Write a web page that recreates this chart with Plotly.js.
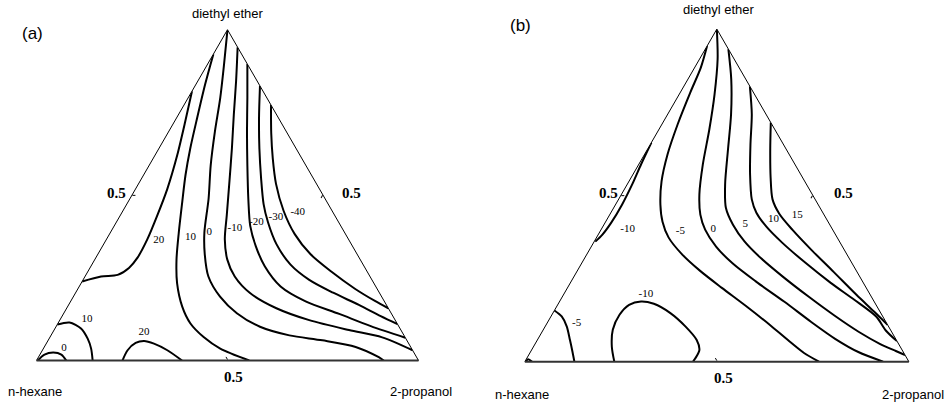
<!DOCTYPE html>
<html><head><meta charset="utf-8">
<script src="https://cdn.plot.ly/plotly-3.0.1.min.js"></script>
<style>html,body{margin:0;padding:0;background:#fff;}</style>
</head><body>
<div id="chart" style="width:945px;height:408px;"></div>
<script>
// ---- Panel (a): contour lines, ether = diethyl ether fraction, prop = 2-propanol fraction ----
const a20_ether = [0.239,0.254,0.259,0.280,0.311,0.366,0.438,0.519,0.621,0.723,0.814];
const a20_prop  = [0,0.042,0.083,0.102,0.109,0.107,0.097,0.083,0.058,0.028,0];
const a10_ether = [0.926,0.835,0.733,0.641,0.560,0.479,0.387,0.305,0.234,0.163,0.112,0.071,0.036,0];
const a10_prop  = [0,0.024,0.054,0.082,0.110,0.142,0.179,0.214,0.251,0.300,0.347,0.402,0.463,0.557];
const a0_ether  = [1,0.896,0.794,0.692,0.590,0.489,0.387,0.321,0.254,0.193,0.143,0.102,0.076,0.061,0.041,0.010,0];
const a0_prop   = [0,0.043,0.084,0.121,0.161,0.206,0.246,0.280,0.323,0.384,0.453,0.534,0.624,0.718,0.815,0.891,0.909];
const am10_ether = [0.947,0.845,0.743,0.641,0.540,0.438,0.366,0.305,0.254,0.204,0.158,0.122,0.092,0.070,0.031];
const am10_prop  = [0.053,0.100,0.145,0.191,0.235,0.279,0.310,0.347,0.392,0.457,0.549,0.653,0.772,0.870,0.969];
const am20_ether = [0.896,0.794,0.692,0.590,0.489,0.407,0.346,0.285,0.224,0.179,0.141,0.104,0.069];
const am20_prop  = [0.104,0.155,0.205,0.257,0.310,0.356,0.401,0.455,0.527,0.615,0.722,0.823,0.931];
const am30_ether = [0.830,0.733,0.641,0.550,0.473,0.418,0.351,0.290,0.244,0.205,0.168,0.134,0.110];
const am30_prop  = [0.170,0.216,0.263,0.313,0.358,0.397,0.453,0.520,0.592,0.674,0.760,0.834,0.890];
const am40_ether = [0.772,0.687,0.611,0.534,0.452,0.382,0.321,0.269,0.217,0.180,0.158];
const am40_prop  = [0.228,0.271,0.313,0.360,0.421,0.485,0.557,0.637,0.725,0.796,0.842];
const aBlob10_ether = [0.109,0.115,0.097,0.066,0.036,0];
const aBlob10_prop  = [0,0.029,0.068,0.101,0.125,0.147];
const aBlob0_ether  = [0,0.018,0.024,0.018,0];
const aBlob0_prop   = [0.003,0.012,0.032,0.056,0.078];
const aBlob20_ether = [0,0.031,0.053,0.059,0.051,0.031,0];
const aBlob20_prop  = [0.225,0.223,0.233,0.252,0.282,0.327,0.381];

const aLabelText  = ['20','10','0','-10','-20','-30','-40','10','0','20'];
const aLabelEther = [0.364,0.372,0.387,0.399,0.419,0.433,0.448,0.124,0.038,0.085];
const aLabelProp  = [0.138,0.217,0.259,0.320,0.366,0.410,0.460,0.070,0.053,0.239];

// ---- Panel (b) ----
const bm10edge_ether = [0.659,0.593,0.533,0.472,0.418,0.382,0.361];
const bm10edge_prop  = [0,0.006,0.013,0.017,0.016,0.011,0.003];
const bm5_ether = [0.949,0.885,0.810,0.714,0.623,0.542,0.472,0.421,0.373,0.322,0.273,0.222,0.168,0.111,0.062,0.026,0];
const bm5_prop  = [0,0.016,0.026,0.041,0.060,0.085,0.117,0.148,0.188,0.249,0.320,0.402,0.491,0.582,0.657,0.714,0.766];
const b0_ether  = [1,0.910,0.804,0.699,0.593,0.503,0.442,0.397,0.346,0.295,0.240,0.180,0.120,0.068,0.029,0];
const b0_prop   = [0,0.047,0.092,0.131,0.167,0.203,0.236,0.271,0.325,0.394,0.483,0.586,0.685,0.775,0.854,0.933];
const b5_ether  = [0.940,0.849,0.744,0.638,0.533,0.463,0.412,0.361,0.310,0.255,0.195,0.138,0.090,0.053,0.032,0.020];
const b5_prop   = [0.060,0.113,0.165,0.210,0.255,0.292,0.336,0.392,0.461,0.545,0.642,0.738,0.824,0.899,0.950,0.980];
const b10_ether = [0.828,0.744,0.653,0.563,0.488,0.448,0.406,0.358,0.298,0.237,0.186,0.135,0.093,0.062];
const b10_prop  = [0.172,0.219,0.261,0.305,0.347,0.379,0.426,0.491,0.581,0.678,0.765,0.848,0.894,0.938];
const b15_ether = [0.719,0.638,0.554,0.488,0.445,0.397,0.337,0.270,0.201,0.150,0.111];
const b15_prop  = [0.281,0.320,0.363,0.401,0.440,0.498,0.577,0.669,0.763,0.835,0.889];
const bBlob10_ether = [0,0.045,0.096,0.141,0.171,0.181,0.174,0.146,0.106,0.065,0.035,0.010,0];
const bBlob10_prop  = [0.233,0.204,0.181,0.176,0.186,0.212,0.249,0.306,0.365,0.415,0.437,0.439,0.438];
const bBlob5_ether = [0.154,0.136,0.106,0.065,0.030,0];
const bBlob5_prop  = [0,0.028,0.056,0.085,0.109,0.129];
const bCorner_ether = [0,0.007,0];
const bCorner_prop  = [0.002,0.005,0.019];

const bLabelText  = ['-10','-5','0','5','10','15','-10','-5'];
const bLabelEther = [0.397,0.392,0.399,0.412,0.429,0.439,0.204,0.116];
const bLabelProp  = [0.069,0.209,0.291,0.368,0.433,0.490,0.213,0.077];

const axisTitles = {top:'diethyl ether', left:'n-hexane', right:'2-propanol'};

function contour(ether, prop, sub){
  return {type:'scatterternary', subplot:sub, mode:'lines', a:ether, c:prop, sum:1,
    line:{color:'#000', width:2, shape:'spline', smoothing:0.8}, hoverinfo:'skip'};
}
function labels(txt, ether, prop, sub){
  return {type:'scatterternary', subplot:sub, mode:'text', a:ether, c:prop, sum:1, text:txt,
    textfont:{family:'Liberation Serif, Times New Roman, serif', size:11, color:'#000'},
    cliponaxis:false, hoverinfo:'skip'};
}
const traces = [
  contour(a20_ether,a20_prop,'ternary'), contour(a10_ether,a10_prop,'ternary'),
  contour(a0_ether,a0_prop,'ternary'), contour(am10_ether,am10_prop,'ternary'),
  contour(am20_ether,am20_prop,'ternary'), contour(am30_ether,am30_prop,'ternary'),
  contour(am40_ether,am40_prop,'ternary'), contour(aBlob10_ether,aBlob10_prop,'ternary'),
  contour(aBlob0_ether,aBlob0_prop,'ternary'), contour(aBlob20_ether,aBlob20_prop,'ternary'),
  labels(aLabelText,aLabelEther,aLabelProp,'ternary'),
  contour(bm10edge_ether,bm10edge_prop,'ternary2'), contour(bm5_ether,bm5_prop,'ternary2'),
  contour(b0_ether,b0_prop,'ternary2'), contour(b5_ether,b5_prop,'ternary2'),
  contour(b10_ether,b10_prop,'ternary2'), contour(b15_ether,b15_prop,'ternary2'),
  contour(bBlob10_ether,bBlob10_prop,'ternary2'), contour(bBlob5_ether,bBlob5_prop,'ternary2'),
  contour(bCorner_ether,bCorner_prop,'ternary2'),
  labels(bLabelText,bLabelEther,bLabelProp,'ternary2')
];

function ax(lw, lc){
  return {showgrid:false, showline:true, linecolor:lc||'#000', linewidth:lw||1,
    ticks:'inside', ticklen:3, tickwidth:1, tickcolor:'#000', tickmode:'array', tickvals:[0.5],
    showticklabels:false, title:{text:''}};
}
function tern(dx, dy){
  return {domain:{x:dx, y:dy}, sum:1, bgcolor:'#fff',
    aaxis:ax(1), baxis:ax(2,'#333'), caxis:ax(1)};
}
const sans = 'Liberation Sans, Arial, sans-serif';
const serif = 'Liberation Serif, Times New Roman, serif';
function ann(x, y, text, font, size, xa){
  return {xref:'paper', yref:'paper', x:x, y:y, text:text, showarrow:false,
    xanchor:xa||'center', yanchor:'middle', font:{family:font, size:size, color:'#000'}};
}
const layout = {
  width:945, height:408, margin:{l:0,r:0,t:0,b:0},
  paper_bgcolor:'#fff', showlegend:false, hovermode:false,
  ternary: tern([0.03862,0.44286],[0.1018,0.9418]),
  ternary2: tern([0.5554,0.96175],[0.1011,0.9411]),
  annotations:[
    ann(0.0349,0.9191,'(a)',sans,17),
    ann(0.2410,0.9674,axisTitles.top,sans,13),
    ann(0.0370,0.0400,axisTitles.left,sans,13),
    ann(388/945,0.0400,axisTitles.right,sans,13,'left'),
    ann(0.1235,0.5262,'<b>0.5</b>',serif,15),
    ann(0.3722,0.5262,'<b>0.5</b>',serif,15),
    ann(0.2469,0.0767,'<b>0.5</b>',serif,15),
    ann(0.5503,0.9387,'(b)',sans,17),
    ann(0.7601,0.9755,axisTitles.top,sans,13),
    ann(0.5520,0.0319,axisTitles.left,sans,13),
    ann(880/945,0.0319,axisTitles.right,sans,13,'left'),
    ann(0.6437,0.5262,'<b>0.5</b>',serif,15),
    ann(0.8924,0.5262,'<b>0.5</b>',serif,15),
    ann(0.7654,0.0728,'<b>0.5</b>',serif,15)
  ]
};
Plotly.newPlot('chart', traces, layout, {staticPlot:true, displayModeBar:false});
</script>
</body></html>
